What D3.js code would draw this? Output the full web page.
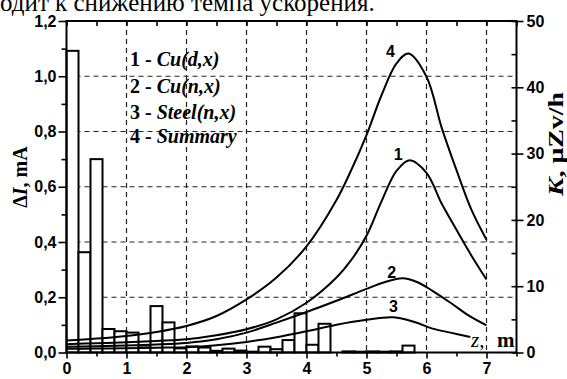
<!DOCTYPE html>
<html>
<head>
<meta charset="utf-8">
<script src="https://cdn.jsdelivr.net/npm/d3@7"></script>
<style>
  body { margin: 0; background: #fff; }
  svg { display: block; }
</style>
</head>
<body>
<div id="chart"></div>
<script>
(function(){
  'use strict';

  //----- histogram (left axis, ΔI, mA), bins of 0.2 m
  var binWidth = 0.2;
  var binStart = [0, 0.2, 0.4, 0.6, 0.8, 1.0, 1.2, 1.4, 1.6, 1.8, 2.0, 2.2, 2.4, 2.6, 2.8,
                  3.0, 3.2, 3.4, 3.6, 3.8, 4.0, 4.2, 4.4, 4.6, 4.8, 5.0, 5.2, 5.4, 5.6];
  var binCurrent = [1.092, 0.363, 0.700, 0.085, 0.077, 0.072, 0.025, 0.168, 0.109, 0.015, 0.022, 0.018, 0.006, 0.014, 0.007,
                    0.003, 0.021, 0.012, 0.045, 0.142, 0.028, 0.104, 0.000, 0.004, 0.003, 0.004, 0.003, 0.004, 0.025];

  //----- curves (right axis, K, μZv/h) as [z, K]
  var cuD = [[0, 1.25], [0.5, 1.4], [1, 1.55], [1.5, 1.75], [2, 2.0], [2.5, 2.6], [3, 3.5], [3.5, 5.0], [4, 7.5],
             [4.5, 11.3], [4.75, 14.0], [5, 17.6], [5.25, 22.8], [5.5, 27.4], [5.72, 29.0], [6, 27.1], [6.25, 22.5],
             [6.5, 18.5], [6.75, 14.6], [7, 11.0]];
  var cuN = [[0, 0.85], [0.5, 0.95], [1, 1.05], [1.5, 1.2], [2, 1.45], [2.5, 2.0], [3, 3.0], [3.5, 4.5], [4, 6.1],
             [4.5, 7.8], [5, 9.6], [5.3, 10.6], [5.6, 11.2], [5.85, 10.6], [6.1, 9.3], [6.4, 7.5], [6.7, 5.6], [7, 4.1]];
  var steelN = [[0, 0.55], [0.5, 0.6], [1, 0.65], [1.5, 0.72], [2, 0.8], [2.5, 1.1], [3, 1.6], [3.5, 2.3], [4, 3.2],
                [4.5, 4.2], [5, 4.95], [5.45, 5.3], [5.8, 4.6], [6.1, 3.6], [6.4, 3.0], [6.73, 2.35]];
  var summary = [[0, 1.8], [0.5, 2.1], [1, 2.5], [1.5, 3.1], [2, 4.0], [2.5, 5.5], [3, 8.0], [3.5, 11.3], [4, 16.0],
                 [4.5, 23.0], [4.75, 27.6], [5, 32.8], [5.25, 38.8], [5.5, 43.6], [5.7, 45.1], [6, 41.6], [6.25, 34.0],
                 [6.5, 27.5], [6.75, 21.5], [7, 17.0]];

  var curveNames = ['1', '2', '3', '4'];
  var legendItems = [['1 - ', 'Cu(d,x)'], ['2 - ', 'Cu(n,x)'], ['3 - ', 'Steel(n,x)'], ['4 - ', 'Summary']];

  var xTicks = [0, 1, 2, 3, 4, 5, 6, 7];
  var xMinor = [0.5, 1.5, 2.5, 3.5, 4.5, 5.5, 6.5, 7.5];
  var yTicks = [0, 0.2, 0.4, 0.6, 0.8, 1.0, 1.2];
  var yMinor = [0.1, 0.3, 0.5, 0.7, 0.9, 1.1];
  var kTicks = [0, 10, 20, 30, 40, 50];
  var kMinor = [5, 15, 25, 35, 45];

  var width = 567, height = 379;
  var left = 66.5, right = 516.5, top = 21, bottom = 352.5;
  var serif = '"Liberation Serif", "Times New Roman", serif';
  var sans = '"Liberation Sans", Arial, sans-serif';

  var svg = d3.select('#chart').append('svg')
    .attr('width', width)
    .attr('height', height);

  var x = d3.scaleLinear().domain([0, 7.5]).range([left, right]);
  var y = d3.scaleLinear().domain([0, 1.2]).range([bottom, top]);
  var yK = d3.scaleLinear().domain([0, 50]).range([bottom, top]);

  //----- text above the chart (cut off by the page edge)
  svg.append('text')
    .attr('x', 0).attr('y', 11)
    .attr('font-family', serif).attr('font-size', 25)
    .text('одит к снижению темпа ускорения.');

  //----- dashed grid
  var grid = svg.append('g')
    .attr('stroke', '#222').attr('stroke-width', 1.2).attr('stroke-dasharray', '5,4');
  grid.selectAll('line.vx').data(xTicks.slice(1)).enter()
    .append('line')
    .attr('x1', function(d){ return x(d); }).attr('x2', function(d){ return x(d); })
    .attr('y1', top).attr('y2', bottom);
  grid.selectAll('line.hy').data(yTicks.slice(1, -1)).enter()
    .append('line')
    .attr('x1', left).attr('x2', right)
    .attr('y1', function(d){ return y(d); }).attr('y2', function(d){ return y(d); });

  //----- histogram
  svg.append('g').selectAll('rect').data(binStart).enter()
    .append('rect')
    .attr('x', function(d){ return x(d); })
    .attr('width', function(d){ return x(d + binWidth) - x(d); })
    .attr('y', function(d, i){ return y(binCurrent[i]); })
    .attr('height', function(d, i){ return bottom - y(binCurrent[i]); })
    .attr('fill', '#fff').attr('stroke', '#000').attr('stroke-width', 2);

  //----- curves
  var line = d3.line()
    .x(function(d){ return x(d[0]); })
    .y(function(d){ return yK(d[1]); })
    .curve(d3.curveCatmullRom.alpha(0.5));

  svg.append('g').selectAll('path').data([cuD, cuN, steelN, summary]).enter()
    .append('path')
    .attr('d', line)
    .attr('fill', 'none').attr('stroke', '#000').attr('stroke-width', 2);

  // curve numbers, placed in data coords next to the peaks
  var labelAt = [[5.53, 29.0], [5.42, 11.3], [5.45, 6.1], [5.4, 44.6]];
  svg.append('g').selectAll('text').data(curveNames).enter()
    .append('text')
    .attr('x', function(d, i){ return x(labelAt[i][0]); })
    .attr('y', function(d, i){ return yK(labelAt[i][1]); })
    .attr('text-anchor', 'middle')
    .attr('font-family', sans).attr('font-size', 16).attr('font-weight', 'bold')
    .text(function(d){ return d; });

  //----- frame
  svg.append('rect')
    .attr('x', left).attr('y', top)
    .attr('width', right - left).attr('height', bottom - top)
    .attr('fill', 'none').attr('stroke', '#000').attr('stroke-width', 2);

  //----- axes
  function styleAxis(g) {
    g.select('.domain').remove();
    g.selectAll('line').attr('stroke', '#000').attr('stroke-width', 1.6);
    g.selectAll('text')
      .attr('font-family', sans).attr('font-size', 16).attr('font-weight', 'bold').attr('fill', '#000');
  }
  var comma = function(d){ return d3.format('.1f')(d).replace('.', ','); };

  svg.append('g').attr('transform', 'translate(' + left + ',0)')
    .call(d3.axisLeft(y).tickValues(yTicks).tickFormat(comma).tickSize(8).tickPadding(2))
    .call(styleAxis);
  svg.append('g').attr('transform', 'translate(' + left + ',0)')
    .call(d3.axisLeft(y).tickValues(yMinor).tickFormat('').tickSize(5))
    .call(styleAxis);

  svg.append('g').attr('transform', 'translate(0,' + bottom + ')')
    .call(d3.axisBottom(x).tickValues(xTicks).tickFormat(d3.format('d')).tickSize(6).tickPadding(4))
    .call(styleAxis);
  svg.append('g').attr('transform', 'translate(0,' + bottom + ')')
    .call(d3.axisBottom(x).tickValues(xMinor).tickFormat('').tickSize(4))
    .call(styleAxis);

  svg.append('g').attr('transform', 'translate(0,' + top + ')')
    .call(d3.axisTop(x).tickValues(xTicks.concat(xMinor)).tickFormat('').tickSize(-5))
    .call(styleAxis);

  svg.append('g').attr('transform', 'translate(' + right + ',0)')
    .call(d3.axisRight(yK).tickValues(kTicks).tickSize(7).tickPadding(3))
    .call(styleAxis);
  svg.append('g').attr('transform', 'translate(' + right + ',0)')
    .call(d3.axisRight(yK).tickValues(kTicks.concat(kMinor)).tickFormat('').tickSize(-5))
    .call(styleAxis);

  //----- axis titles
  var yTitle = svg.append('text')
    .attr('transform', 'translate(27,177) rotate(-90)')
    .attr('text-anchor', 'middle')
    .attr('font-family', serif).attr('font-size', 20).attr('font-weight', 'bold');
  yTitle.append('tspan').text('Δ');
  yTitle.append('tspan').attr('font-style', 'italic').text('I');
  yTitle.append('tspan').text(', mA');

  var kTitle = svg.append('text')
    .attr('transform', 'translate(563,144) rotate(-90)')
    .attr('text-anchor', 'middle')
    .attr('textLength', 104).attr('lengthAdjust', 'spacingAndGlyphs')
    .attr('font-family', serif).attr('font-size', 20).attr('font-weight', 'bold');
  kTitle.append('tspan').attr('font-style', 'italic').text('K');
  kTitle.append('tspan').text(', μZv/h');

  var zTitle = svg.append('text')
    .attr('x', 471).attr('y', 347)
    .attr('font-family', serif).attr('font-size', 21);
  zTitle.append('tspan').attr('font-style', 'italic').text('z,');
  zTitle.append('tspan').attr('x', 497).attr('font-weight', 'bold').text('m');

  //----- legend
  var legend = svg.append('g')
    .attr('font-family', serif).attr('font-size', 20).attr('font-weight', 'bold');
  var legendY = [66, 93, 119, 143];
  legendItems.forEach(function(item, i) {
    var t = legend.append('text').attr('x', 130).attr('y', legendY[i]);
    t.append('tspan').text(item[0]);
    t.append('tspan').attr('font-style', 'italic').text(item[1]);
  });

})();
</script>
</body>
</html>
